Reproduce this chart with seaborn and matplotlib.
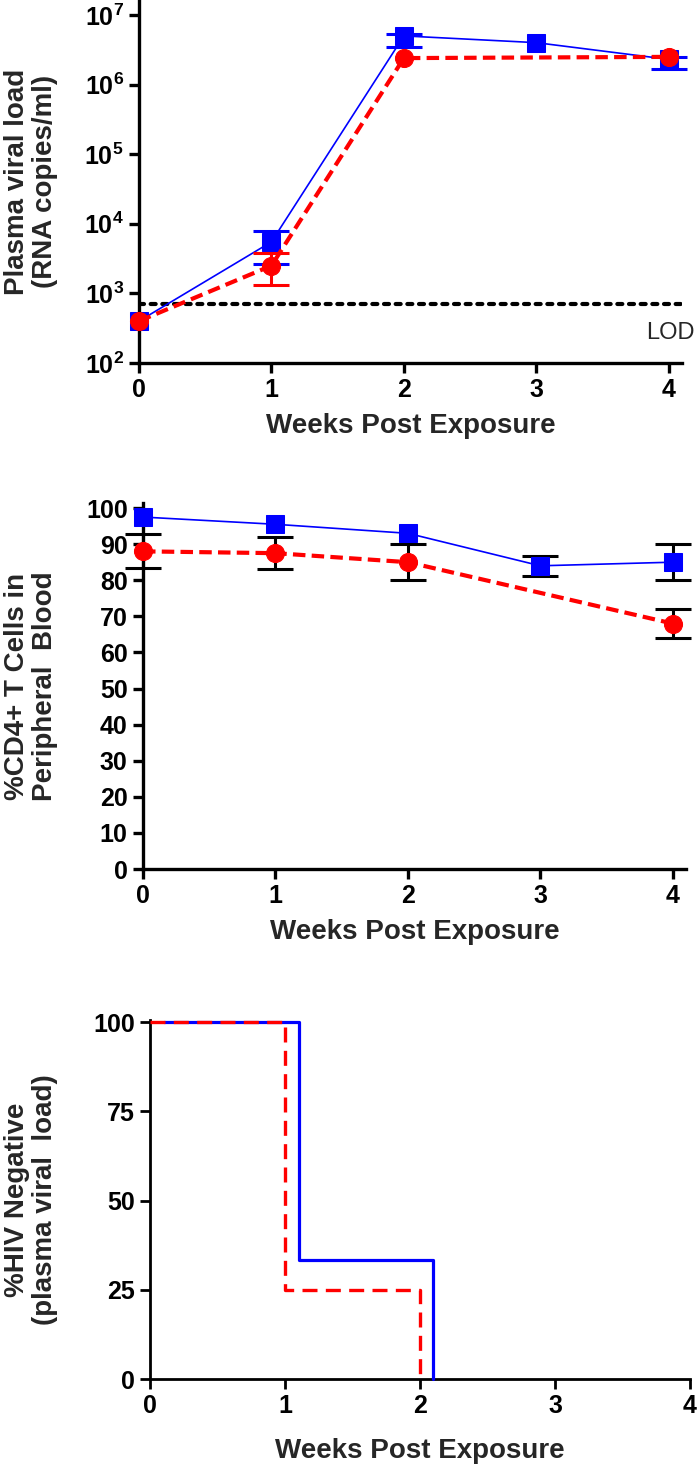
import matplotlib
matplotlib.use("Agg")
import matplotlib.pyplot as plt
import numpy as np
import pandas as pd
import seaborn as sns

# panel 1: plasma viral load (RNA copies/ml)
weeks = [0, 1, 2, 3, 4]
red_weeks = [0, 1, 2, 4]
vl_blue = [400, 5500, 5.0e6, 4.0e6, 2.3e6]
vl_red = [400, 2500, 2.4e6, 2.5e6]
# error bars only where visible
vl_blue_err_weeks = [1, 2, 4]
vl_blue_err_mid = [5500, 5.0e6, 2.3e6]
vl_blue_err_lo = [2600, 3.5e6, 1.7e6]
vl_blue_err_hi = [8000, 5.4e6, 2.5e6]
vl_red_err_weeks = [1]
vl_red_err_mid = [2500]
vl_red_err_lo = [1300]
vl_red_err_hi = [3800]
lod = 700

# panel 2: %CD4+ T cells
cd4_blue = [97.5, 95.5, 93, 84, 85]
cd4_red = [88, 87.5, 85, 68]
cd4_blue_err_weeks = [3, 4]
cd4_blue_err_mid = [84, 85]
cd4_blue_err = [2.8, 5]
cd4_red_err = [4.7, 4.5, 5, 4]

# panel 3: % HIV negative (step curves)
surv_blue_x = [0.1, 1.1, 2.1]
surv_blue_y = [100, 33.3, 0]
surv_red_x = [0, 1, 2]
surv_red_y = [100, 25, 0]

BLUE = "#0000ff"
RED = "#ff0000"

sns.set_theme(style="ticks")
plt.rcParams["font.family"] = ["Liberation Sans", "DejaVu Sans"]
plt.rcParams["font.weight"] = "bold"
plt.rcParams["mathtext.default"] = "regular"

fig = plt.figure(figsize=(7, 14.66), dpi=100)
ax1 = fig.add_axes([0.1986, 0.7524, 0.7757, 0.2476])
ax2 = fig.add_axes([0.2043, 0.4072, 0.7757, 0.2497])
ax3 = fig.add_axes([0.2143, 0.0593, 0.7714, 0.2449])


def style_axis(ax, lw=2.2):
    for s in ["top", "right"]:
        ax.spines[s].set_visible(False)
    for s in ["left", "bottom"]:
        ax.spines[s].set_linewidth(lw)
        ax.spines[s].set_color("black")
    ax.tick_params(direction="out", length=7, width=lw, labelsize=18, pad=4, colors="black")
    for lab in ax.get_xticklabels() + ax.get_yticklabels():
        lab.set_fontweight("bold")
    ax.set_facecolor("white")


# ---- panel 1
ax1.set_yscale("log")
mid = np.array(vl_blue_err_mid)
ax1.errorbar(vl_blue_err_weeks, mid, yerr=[mid - np.array(vl_blue_err_lo), np.array(vl_blue_err_hi) - mid],
             fmt="none", ecolor=BLUE, elinewidth=2.2, capsize=13, capthick=2.2, zorder=2, clip_on=False)
mid = np.array(vl_red_err_mid)
ax1.errorbar(vl_red_err_weeks, mid, yerr=[mid - np.array(vl_red_err_lo), np.array(vl_red_err_hi) - mid],
             fmt="none", ecolor=RED, elinewidth=2.2, capsize=13, capthick=2.2, zorder=4, clip_on=False)
sns.lineplot(x=weeks, y=vl_blue, ax=ax1, color=BLUE, linewidth=1.2, marker="s", markersize=13,
             markeredgecolor=BLUE, errorbar=None, zorder=3, clip_on=False)
sns.lineplot(x=red_weeks, y=vl_red, ax=ax1, color=RED, linewidth=3, linestyle=(0, (3, 1.5)),
             marker="o", markersize=13, markeredgecolor=RED, errorbar=None, zorder=5, clip_on=False)
ax1.axhline(lod, color="black", linewidth=3, linestyle=(0, (1.2, 1.6)), dash_capstyle="round", zorder=1)
ax1.text(3.83, 270, "LOD", fontsize=17, fontweight="normal", ha="left", va="center")
ax1.set_xlim(0, 4.1)
ax1.set_ylim(100, 1.64e7)
ax1.set_xticks(weeks)
ax1.set_xticklabels([str(w) for w in weeks])
yt = [1e2, 1e3, 1e4, 1e5, 1e6, 1e7]
ax1.set_yticks(yt)
ax1.set_yticklabels([r"$\mathregular{10^{%d}}$" % int(np.log10(v)) for v in yt])
ax1.minorticks_off()
ax1.set_xlabel("Weeks Post Exposure", fontsize=20, fontweight="bold", labelpad=8)
ax1.set_ylabel("Plasma viral load\n(RNA copies/ml)", fontsize=20, fontweight="bold", va="center", linespacing=1.1)
ax1.yaxis.set_label_coords(-0.199, 0.5)
style_axis(ax1, lw=2.4)

# ---- panel 2
ax2.errorbar(cd4_blue_err_weeks, cd4_blue_err_mid, yerr=cd4_blue_err, fmt="none", ecolor="black",
             elinewidth=2.2, capsize=13, capthick=2.2, zorder=2, clip_on=False)
ax2.errorbar(red_weeks, cd4_red, yerr=cd4_red_err, fmt="none", ecolor="black", elinewidth=2.2,
             capsize=13, capthick=2.2, zorder=2, clip_on=False)
sns.lineplot(x=weeks, y=cd4_blue, ax=ax2, color=BLUE, linewidth=1.2, marker="s", markersize=13,
             markeredgecolor=BLUE, errorbar=None, zorder=3, clip_on=False)
sns.lineplot(x=red_weeks, y=cd4_red, ax=ax2, color=RED, linewidth=3, linestyle=(0, (3, 1.5)),
             marker="o", markersize=13, markeredgecolor=RED, errorbar=None, zorder=5, clip_on=False)
ax2.set_xlim(0, 4.1)
ax2.set_ylim(0, 101.4)
ax2.set_xticks(weeks)
ax2.set_yticks(range(0, 101, 10))
ax2.set_xlabel("Weeks Post Exposure", fontsize=20, fontweight="bold", labelpad=8)
ax2.set_ylabel("%CD4+ T Cells in\nPeripheral  Blood", fontsize=20, fontweight="bold", va="center", linespacing=1.1)
ax2.yaxis.set_label_coords(-0.206, 0.5)
style_axis(ax2, lw=2.4)

# ---- panel 3
sns.lineplot(x=surv_blue_x, y=surv_blue_y, ax=ax3, color=BLUE, linewidth=2.3, drawstyle="steps-post",
             errorbar=None, zorder=3, clip_on=False)
sns.lineplot(x=surv_red_x, y=surv_red_y, ax=ax3, color=RED, linewidth=2.4, linestyle=(0, (4.5, 2.5)),
             drawstyle="steps-post", errorbar=None, zorder=4, clip_on=False)
ax3.set_xlim(0, 4)
ax3.set_ylim(0, 100.6)
ax3.set_xticks(weeks)
ax3.set_yticks([0, 25, 50, 75, 100])
ax3.set_xlabel("Weeks Post Exposure", fontsize=20, fontweight="bold", labelpad=14)
ax3.set_ylabel("%HIV Negative\n(plasma viral  load)", fontsize=20, fontweight="bold", va="center", linespacing=1.1)
ax3.yaxis.set_label_coords(-0.22, 0.5)
style_axis(ax3, lw=2.0)

fig.savefig("out.png", dpi=100, facecolor="white")
